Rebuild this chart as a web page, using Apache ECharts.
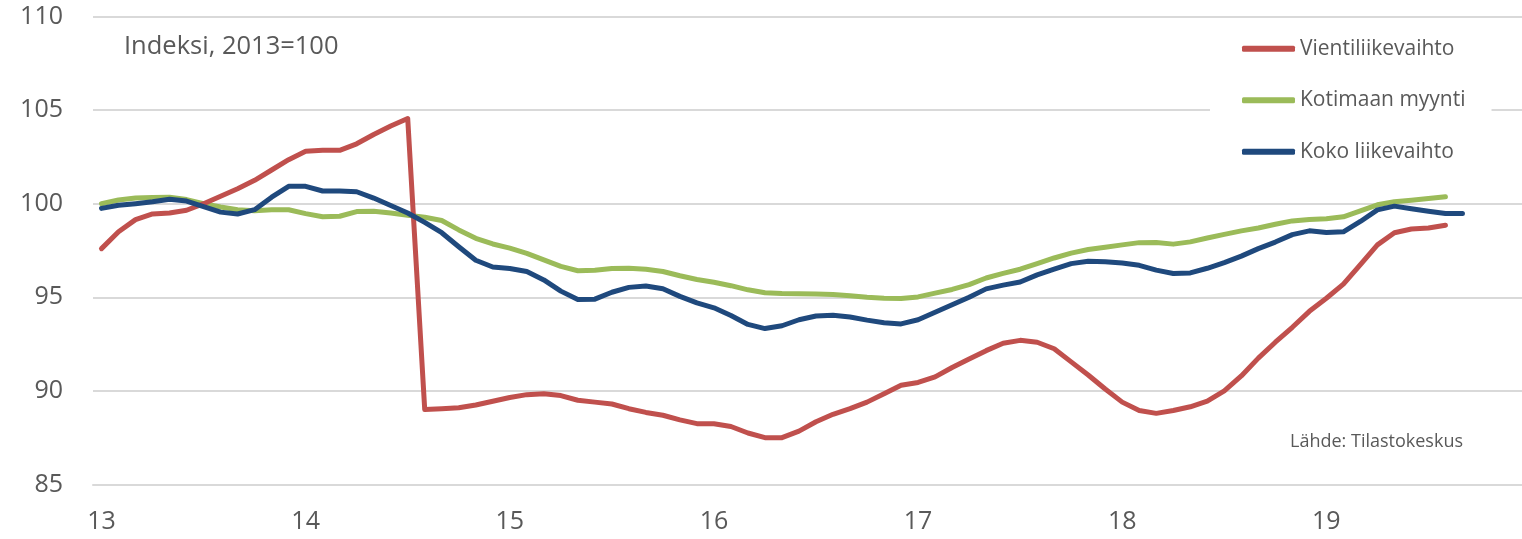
<!DOCTYPE html>
<html>
<head>
<meta charset="utf-8">
<script src="https://cdn.jsdelivr.net/npm/echarts@6/dist/echarts.min.js"></script>
<style>
  html, body { margin: 0; padding: 0; background: #fff; }
  #chart { width: 1522px; height: 539px; }
</style>
</head>
<body>
<div id="chart"></div>
<script>
// Years shown on the x axis (monthly data, label at January)
var years = ['13', '14', '15', '16', '17', '18', '19'];
var months = ['01','02','03','04','05','06','07','08','09','10','11','12'];

// Vientiliikevaihto, 2013/01 - 2019/08
var vienti = [
  97.6, 98.5, 99.15, 99.45, 99.5, 99.65, 100.0, 100.4, 100.8, 101.25, 101.8, 102.35,
  102.8, 102.85, 102.85, 103.2, 103.7, 104.15, 104.55, 89.0, 89.05, 89.1, 89.25, 89.45,
  89.65, 89.8, 89.85, 89.75, 89.5, 89.4, 89.3, 89.05, 88.85, 88.7, 88.45, 88.25,
  88.25, 88.1, 87.75, 87.5, 87.5, 87.85, 88.35, 88.75, 89.05, 89.4, 89.85, 90.3,
  90.45, 90.75, 91.25, 91.7, 92.15, 92.55, 92.7, 92.6, 92.25, 91.55, 90.85, 90.1,
  89.4, 88.95, 88.8, 88.95, 89.15, 89.45, 90.0, 90.8, 91.75, 92.6, 93.4, 94.25,
  94.95, 95.7, 96.75, 97.8, 98.45, 98.65, 98.7, 98.85
];

// Kotimaan myynti, 2013/01 - 2019/08
var kotimaa = [
  100.0, 100.2, 100.3, 100.33, 100.35, 100.22, 100.0, 99.82, 99.68, 99.62, 99.68, 99.68,
  99.47, 99.3, 99.33, 99.58, 99.6, 99.5, 99.38, 99.28, 99.1, 98.6, 98.15, 97.85,
  97.63, 97.35, 97.0, 96.65, 96.42, 96.45, 96.54, 96.55, 96.5, 96.38, 96.15, 95.95,
  95.8, 95.62, 95.4, 95.24, 95.2, 95.19, 95.17, 95.15, 95.08, 95.0, 94.95, 94.94,
  95.02, 95.22, 95.42, 95.68, 96.03, 96.28, 96.5, 96.8, 97.1, 97.36, 97.55, 97.67,
  97.8, 97.92, 97.93, 97.84, 97.96, 98.17, 98.36, 98.55, 98.7, 98.9, 99.08, 99.16,
  99.2, 99.3, 99.62, 99.94, 100.1, 100.19, 100.28, 100.37
];

// Koko liikevaihto, 2013/01 - 2019/09
var koko = [
  99.75, 99.92, 100.0, 100.1, 100.24, 100.14, 99.85, 99.55, 99.45, 99.68, 100.35, 100.93,
  100.93, 100.68, 100.68, 100.64, 100.3, 99.9, 99.5, 99.0, 98.45, 97.7, 96.98, 96.62,
  96.54, 96.38, 95.93, 95.33, 94.88, 94.9, 95.27, 95.53, 95.6, 95.46, 95.05, 94.7,
  94.44, 94.03, 93.55, 93.33, 93.48, 93.8, 94.0, 94.04, 93.95, 93.78, 93.64, 93.58,
  93.8, 94.2, 94.6, 95.0, 95.45, 95.65, 95.82, 96.2, 96.5, 96.8, 96.93, 96.9,
  96.83, 96.71, 96.45, 96.27, 96.3, 96.55, 96.85, 97.2, 97.6, 97.95, 98.35, 98.55,
  98.46, 98.5, 99.05, 99.67, 99.87, 99.73, 99.6, 99.48, 99.48
];

var categories = [];
years.forEach(function (y) {
  months.forEach(function (m) { categories.push(y + '-' + m); });
});

var textColor = '#595959';
var fontName = 'Open Sans';

var chartDom = document.getElementById('chart');
var myChart = echarts.init(chartDom);
var option = {
  animation: false,
  backgroundColor: '#fff',
  textStyle: { fontFamily: fontName },
  grid: { left: 93, top: 16.5, width: 1435, height: 468, containLabel: false },
  xAxis: {
    type: 'category',
    data: categories,
    boundaryGap: true,
    axisLine: { show: true, lineStyle: { color: '#d9d9d9', width: 2 } },
    axisTick: { show: false },
    axisLabel: {
      interval: function (index) { return index % 12 === 0; },
      formatter: function (v) { return v.split('-')[0]; },
      color: textColor,
      fontSize: 25,
      fontFamily: fontName,
      margin: 25
    },
    splitLine: { show: false }
  },
  yAxis: {
    type: 'value',
    min: 85,
    max: 110,
    interval: 5,
    axisLine: { show: false },
    axisTick: { show: false },
    axisLabel: { color: textColor, fontSize: 25, fontFamily: fontName, margin: 30 },
    splitLine: { lineStyle: { color: '#d9d9d9', width: 2 } }
  },
  legend: {
    orient: 'vertical',
    left: 1210,
    top: 22,
    padding: [14, 26, 14, 32],
    backgroundColor: '#fff',
    icon: 'roundRect',
    itemWidth: 53,
    itemHeight: 6,
    itemGap: 26,
    textStyle: { color: textColor, fontSize: 21, fontFamily: fontName, lineHeight: 25.5 },
    data: ['Vientiliikevaihto', 'Kotimaan myynti', 'Koko liikevaihto']
  },
  graphic: [
    {
      type: 'text', left: 124, top: 34,
      style: { text: 'Indeksi, 2013=100', fill: textColor, fontSize: 25.5, fontFamily: fontName }
    },
    {
      type: 'text', left: 1290, top: 433,
      style: { text: 'Lähde: Tilastokeskus', fill: textColor, fontSize: 18, fontFamily: fontName }
    }
  ],
  series: [
    {
      name: 'Vientiliikevaihto', type: 'line', data: vienti,
      symbol: 'none', color: '#C0504D',
      lineStyle: { width: 5, color: '#C0504D', cap: 'round', join: 'round' },
      z: 3
    },
    {
      name: 'Kotimaan myynti', type: 'line', data: kotimaa,
      symbol: 'none', color: '#9BBB59',
      lineStyle: { width: 5, color: '#9BBB59', cap: 'round', join: 'round' },
      z: 2
    },
    {
      name: 'Koko liikevaihto', type: 'line', data: koko,
      symbol: 'none', color: '#1F497D',
      lineStyle: { width: 5, color: '#1F497D', cap: 'round', join: 'round' },
      z: 4
    }
  ]
};
option && myChart.setOption(option);
</script>
</body>
</html>
